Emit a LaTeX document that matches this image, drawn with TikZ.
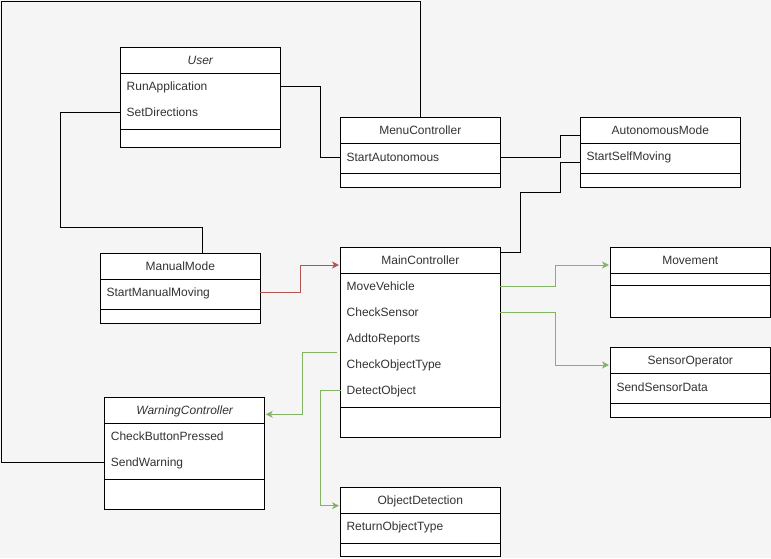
\documentclass[tikz,border=0pt]{standalone}
\usepackage{fontspec}
\setmainfont{Liberation Sans}
\usetikzlibrary{arrows.meta}
\definecolor{bg}{HTML}{F5F5F5}
\definecolor{txt}{HTML}{333333}
\definecolor{grn}{HTML}{82B366}
\definecolor{rd}{HTML}{B85450}
\tikzset{
  classbox/.style={rectangle, draw=black, fill=white, line width=1pt, inner sep=0pt, outer sep=0pt},
  sepline/.style={draw=black, line width=1pt},
  titletext/.style={font=\fontsize{12}{14}\selectfont, text=txt, inner sep=0pt, text height=10.5pt, text depth=2pt},
  rowtext/.style={font=\fontsize{12}{14}\selectfont, text=txt, inner sep=0pt, anchor=west, text height=10.5pt, text depth=2pt},
  conn/.style={draw=black, line width=1pt},
  gconn/.style={draw=grn, line width=1pt, -{Stealth[length=7pt,width=7pt,inset=2pt]}},
  rconn/.style={draw=rd, line width=1pt, -{Stealth[length=7pt,width=7pt,inset=2pt]}}
}
\newcommand\umlbox[8]{%
  \node[classbox, anchor=north west, minimum width={#4-#2}, minimum height={#7-#3}] (#1) at (#2,#3) {};
  \draw[sepline] (#2,#5) -- (#4,#5);
  \draw[sepline] (#2,#6) -- (#4,#6);
  \node[titletext] (#1-t) at ({(#2+#4)/2},{(#3+#5)/2}) {#8};
}
\begin{document}
\begin{tikzpicture}[x=1pt,y=-1pt]
\fill[bg] (0,0) rectangle (771,558);
\useasboundingbox (0,0) rectangle (771,558);

\umlbox{user}{120.3}{47.3}{280.3}{73.3}{129.3}{147.3}{\itshape User}
\umlbox{menu}{340.3}{117.3}{500.3}{143.7}{173.3}{187.2}{MenuController}
\umlbox{auto}{580.3}{117.5}{740.3}{143.3}{173.3}{187.3}{AutonomousMode}
\umlbox{manual}{100.3}{253.3}{260.3}{279.5}{309.2}{323.2}{ManualMode}
\umlbox{main}{340.5}{247.7}{500.3}{273.3}{407.3}{437.3}{MainController}
\umlbox{movement}{610.3}{247.7}{770.3}{273.3}{285}{317.3}{Movement}
\umlbox{sensor}{610.3}{347.7}{770.3}{373.7}{403.3}{417.3}{SensorOperator}
\umlbox{warn}{104.7}{397.7}{264.7}{423.3}{479}{509.3}{\itshape WarningController}
\umlbox{detect}{340.3}{487.3}{500.3}{513.3}{543.3}{556.7}{ObjectDetection}

\node[rowtext] (user-r1) at (126.5,86.7) {RunApplication};
\node[rowtext] (user-r2) at (126.5,112.7) {SetDirections};
\node[rowtext] (menu-r1) at (346.3,157) {StartAutonomous};
\node[rowtext] (auto-r1) at (586.3,156.7) {StartSelfMoving};
\node[rowtext] (manual-r1) at (106.3,292.7) {StartManualMoving};
\node[rowtext] (main-r1) at (346.5,286.7) {MoveVehicle};
\node[rowtext] (main-r2) at (346.5,312.3) {CheckSensor};
\node[rowtext] (main-r3) at (346.5,338.3) {AddtoReports};
\node[rowtext] (main-r4) at (346.5,364.7) {CheckObjectType};
\node[rowtext] (main-r5) at (346.5,390.7) {DetectObject};
\node[rowtext] (sensor-r1) at (616.3,387.3) {SendSensorData};
\node[rowtext] (warn-r1) at (110.7,436.7) {CheckButtonPressed};
\node[rowtext] (warn-r2) at (110.7,462.3) {SendWarning};
\node[rowtext] (detect-r1) at (346.3,526.7) {ReturnObjectType};

\coordinate (c9s) at (336.7,352.7);

% black connectors
\draw[conn] (warn.west |- warn-r2.west) -- (1,462.3) -- (1,1) -- (420.3,1) -- (420.3,0 |- menu.north);
\draw[conn] (user.east |- user-r1.west) -| (320.3,157) -- (menu.west |- menu-r1.west);
\draw[conn] (user.west |- user-r2.west) -- (60.7,112.7) |- (202.3,227.3) -- (202.3,0 |- manual.north);
\draw[conn] (menu.east |- menu-r1.west) -| (560.5,135) -- (auto.west |- 0,135);
\draw[conn] (main.east |- 0,252.3) -| (520.3,192.3) -| (560.8,162.3) -- (auto.west |- 0,162.3);

% coloured connectors
\draw[rconn] (manual.east |- manual-r1.west) -| (300.3,265) -- (339,265);
\draw[gconn] (main.east |- main-r1.west) -| (555.3,265) -- (609,265);
\draw[gconn] (main.east |- main-r2.west) -| (555.3,365) -- (609,365);
\draw[gconn] (c9s) -| (302.3,414.3) -- (265.7,414.3);
\draw[gconn] (main.west |- main-r5.west) -| (320.3,505.7) -- (339,505.7);
\end{tikzpicture}
\end{document}
